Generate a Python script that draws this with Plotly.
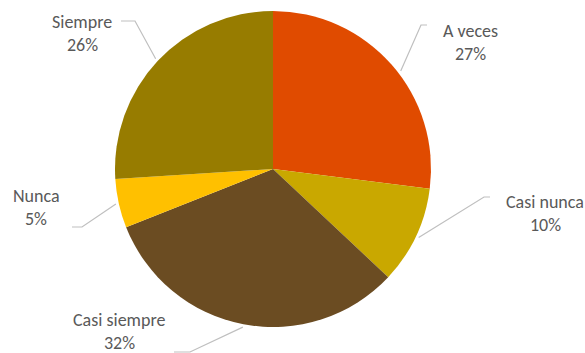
import math
import plotly.graph_objects as go

# Survey answers and their shares (percent)
categories = ["A veces", "Casi nunca", "Casi siempre", "Nunca", "Siempre"]
shares = [27, 10, 32, 5, 26]
colors = ["#E04B00", "#C9A800", "#6B4C22", "#FFC000", "#977C00"]

W, H = 585, 353
CX, CY, R = 273, 169, 158  # pie centre and radius in pixels

# Label placement (pixel centres of the name line) and the elbow of each leader line
label_pos = {
    "A veces": (470, 31),
    "Casi nunca": (545, 202),
    "Casi siempre": (119, 320),
    "Nunca": (36, 196),
    "Siempre": (82, 22),
}
leader_elbow = {
    "A veces": [(427, 25), (421, 25)],
    "Casi nunca": [(490, 197), (484, 197)],
    "Casi siempre": [(174, 352), (190, 352)],
    "Nunca": [(72, 227), (82, 227)],
    "Siempre": [(121, 21), (135, 21)],
}
attach_frac = {"A veces": 0.54}
LINE_GAP = 23

fig = go.Figure()
fig.add_trace(go.Pie(
    labels=categories,
    values=shares,
    marker=dict(colors=colors, line=dict(width=0)),
    sort=False,
    direction="clockwise",
    rotation=0,
    textinfo="none",
    hoverinfo="label+percent",
    showlegend=False,
    domain=dict(x=[(CX - R) / W, (CX + R) / W], y=[1 - (CY + R) / H, 1 - (CY - R) / H]),
))

# Leader lines: from the label elbow to the rim of each slice
total = sum(shares)
cum = 0.0
xs, ys = [], []
annotations = []
for name, val in zip(categories, shares):
    frac = attach_frac.get(name, 0.5)
    ang = (cum + val * frac) / total * 2 * math.pi
    cum += val
    ex = CX + (R + 3) * math.sin(ang)
    ey = CY - (R + 3) * math.cos(ang)
    pts = leader_elbow[name] + [(ex, ey)]
    xs += [p[0] for p in pts] + [None]
    ys += [p[1] for p in pts] + [None]
    lx, ly = label_pos[name]
    for i, txt in enumerate([name, f"{val}%"]):
        annotations.append(dict(
            x=lx, y=ly + i * LINE_GAP, xref="x", yref="y", text=txt, showarrow=False,
            xanchor="center", yanchor="middle",
            font=dict(family="Carlito, Lato, sans-serif", size=18, color="#595959"),
        ))

fig.add_trace(go.Scatter(
    x=xs, y=ys, mode="lines", line=dict(color="#BFBFBF", width=1.2),
    hoverinfo="skip", showlegend=False,
))

fig.update_layout(
    width=W, height=H,
    margin=dict(l=0, r=0, t=0, b=0),
    paper_bgcolor="white", plot_bgcolor="rgba(0,0,0,0)",
    xaxis=dict(range=[0, W], visible=False, fixedrange=True),
    yaxis=dict(range=[H, 0], visible=False, fixedrange=True),
    annotations=annotations,
)

fig.write_html("out.html")
